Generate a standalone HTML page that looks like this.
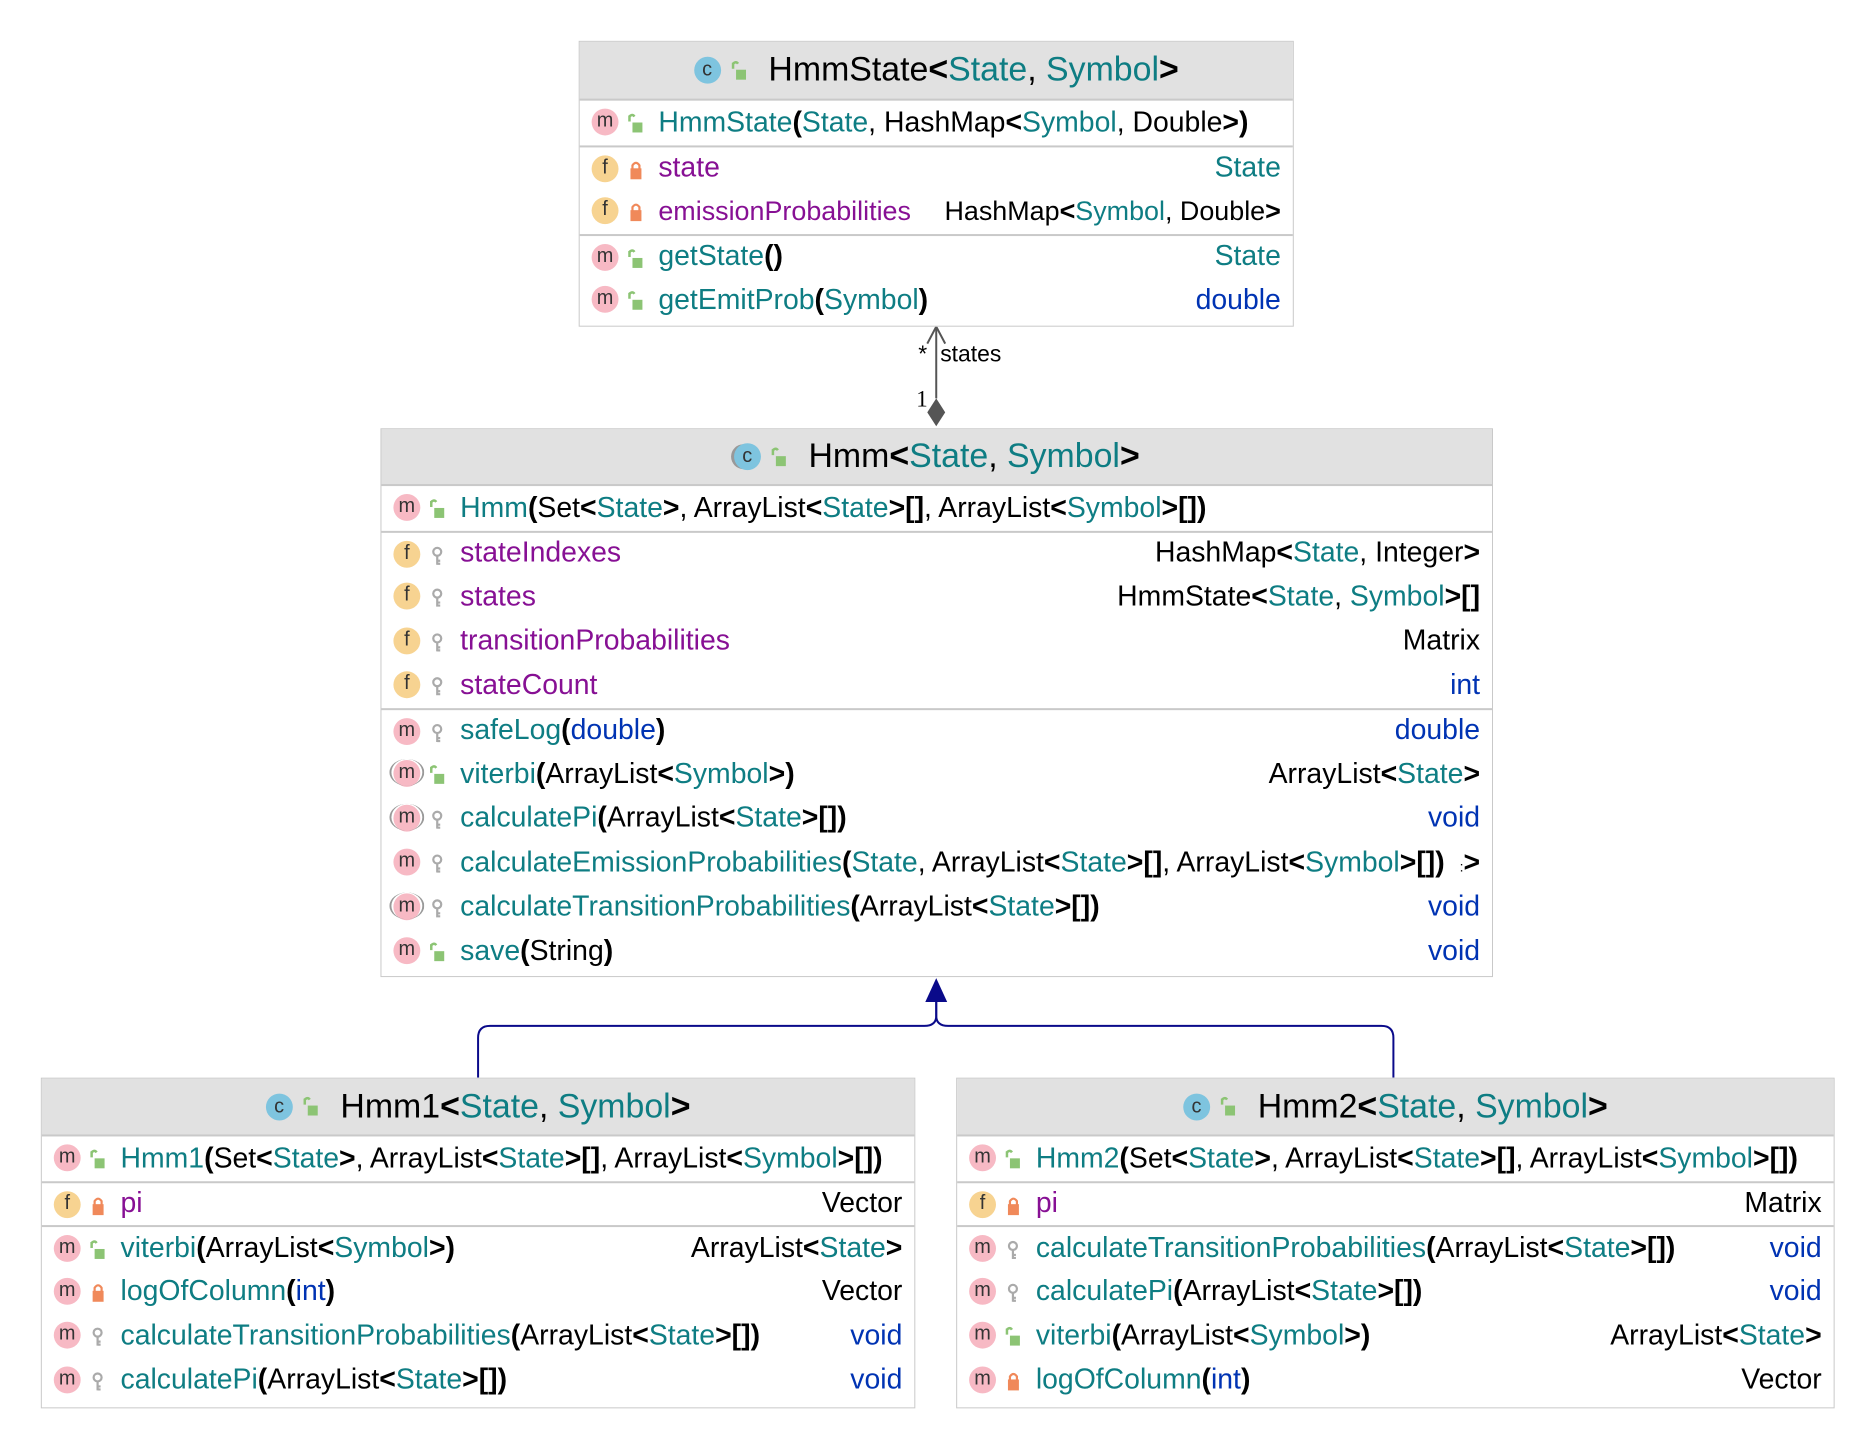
<!DOCTYPE html>
<html><head><meta charset="utf-8"><style>
*{box-sizing:border-box;margin:0;padding:0}
body{width:1872px;height:1446px;background:#fff;position:relative;font-family:"Liberation Sans",sans-serif;overflow:hidden}
#w{position:absolute;left:0;top:0;width:1872px;height:1446px;transform:scale(0.996);transform-origin:0 0}
.box{position:absolute;border:1.5px solid #c9c9c9;background:#fff}
.hdr{background:#e1e1e1;display:flex;align-items:center;justify-content:center;font-size:34px;color:#000;border-bottom:2px solid #c9c9c9}
.row{position:relative;height:44.5px;display:flex;align-items:center;font-size:28.5px;white-space:nowrap;color:#000}
.sep{border-top:2px solid #c9c9c9}
.ic{position:absolute;left:12px;top:8px;width:27px;height:27px;border-radius:50%;background:#f7b9c4;color:#333;font-size:20px;line-height:25px;text-align:center}
.ic.f{background:#f7d391}
.ic.a::before{content:"";position:absolute;left:-4px;top:-1px;width:31px;height:27px;border-left:2.5px solid #999;border-right:2.5px solid #999;border-radius:50%/50%}
.ci{display:inline-block;width:27px;height:27px;border-radius:50%;background:#7ec4df;color:#333;font-size:20px;line-height:26px;text-align:center;margin-right:10px}
.v{position:absolute;left:48px;top:13px;width:16px;height:20px}
.hv{position:relative;display:inline-block;width:16px;height:20px;margin-right:22px}
.t{position:absolute;left:79px}
.r{position:absolute;right:12px}
.te{color:#0e7d83}.pu{color:#871094}.bl{color:#0033b3}.b{font-weight:bold}
</style></head><body><div id="w">

<svg width="1872" height="1446" style="position:absolute;left:0;top:0">
<defs>
<symbol id="pub" viewBox="0 0 16 20"><path d="M2 2 v6" stroke="#8cc474" stroke-width="2.5" fill="none"/><path d="M2 3 q3 -3 5 0" stroke="#8cc474" stroke-width="2.5" fill="none"/><rect x="5" y="9" width="10" height="10" fill="#8cc474"/></symbol>
</defs>
<line x1="940" y1="330" x2="940" y2="400" stroke="#555" stroke-width="2"/>
<polyline points="931,345 940,328 949,345" fill="none" stroke="#555" stroke-width="2"/>
<polygon points="940,400 949,414 940,428 931,414" fill="#555"/>
<text x="922" y="363" font-size="23" font-family="Liberation Sans">*</text>
<text x="944" y="363" font-size="23" font-family="Liberation Sans">states</text>
<text x="920" y="408" font-size="23" font-family="Liberation Serif">1</text>
<polygon points="940,982 929,1006 951,1006" fill="#0a0a8a"/>
<path d="M940 1006 V1020 q0 10 -12 10 H492 q-12 0 -12 12 V1082" fill="none" stroke="#0a0a8a" stroke-width="2"/>
<path d="M940 1006 V1020 q0 10 12 10 H1387 q12 0 12 12 V1082" fill="none" stroke="#0a0a8a" stroke-width="2"/>
</svg>

<!-- HmmState -->
<div class="box" style="left:581px;top:41px;width:718px;height:287px">
<div class="hdr" style="height:59px"><span class="ci">c</span><svg class="hv" viewBox="0 0 16 20"><use href="#pub"/></svg>HmmState<b>&lt;</b><span class="te">State</span>,&nbsp;<span class="te">Symbol</span><b>&gt;</b></div>
<div class="row"><span class="ic">m</span><svg class="v"><use href="#pub"/></svg><span class="t"><span class="te">HmmState</span><b>(</b><span class="te">State</span>, HashMap<b>&lt;</b><span class="te">Symbol</span>, Double<b>&gt;</b><b>)</b></span></div>
<div class="row sep"><span class="ic f">f</span><svg class="v"><rect x="3" y="8" width="11" height="11" fill="#f0895a"/><path d="M5 9 V5 q3.5 -5 7 0 V9" stroke="#f0895a" stroke-width="2.2" fill="none"/></svg><span class="t pu">state</span><span class="r te">State</span></div>
<div class="row" style="font-size:27px"><span class="ic f">f</span><svg class="v"><rect x="3" y="8" width="11" height="11" fill="#f0895a"/><path d="M5 9 V5 q3.5 -5 7 0 V9" stroke="#f0895a" stroke-width="2.2" fill="none"/></svg><span class="t pu">emissionProbabilities</span><span class="r">HashMap<b>&lt;</b><span class="te">Symbol</span>, Double<b>&gt;</b></span></div>
<div class="row sep"><span class="ic">m</span><svg class="v"><use href="#pub"/></svg><span class="t"><span class="te">getState</span><b>()</b></span><span class="r te">State</span></div>
<div class="row"><span class="ic">m</span><svg class="v"><use href="#pub"/></svg><span class="t"><span class="te">getEmitProb</span><b>(</b><span class="te">Symbol</span><b>)</b></span><span class="r bl">double</span></div>
</div>

<!-- Hmm -->
<div class="box" style="left:382px;top:430px;width:1117px;height:551px">
<div class="hdr" style="height:57px"><span class="ci" style="box-shadow:-4px 0 0 -1px #999">c</span><svg class="hv" viewBox="0 0 16 20"><use href="#pub"/></svg>Hmm<b>&lt;</b><span class="te">State</span>,&nbsp;<span class="te">Symbol</span><b>&gt;</b></div>
<div class="row"><span class="ic">m</span><svg class="v"><use href="#pub"/></svg><span class="t"><span class="te">Hmm</span><b>(</b>Set<b>&lt;</b><span class="te">State</span><b>&gt;</b>, ArrayList<b>&lt;</b><span class="te">State</span><b>&gt;[]</b>, ArrayList<b>&lt;</b><span class="te">Symbol</span><b>&gt;[]</b><b>)</b></span></div>
<div class="row sep"><span class="ic f">f</span><svg class="v"><circle cx="8" cy="6" r="4" stroke="#aaa" stroke-width="2.2" fill="none"/><path d="M8 10 V19 M8 15 h3 M8 18 h3" stroke="#aaa" stroke-width="2.2"/></svg><span class="t pu">stateIndexes</span><span class="r">HashMap<b>&lt;</b><span class="te">State</span>, Integer<b>&gt;</b></span></div>
<div class="row"><span class="ic f">f</span><svg class="v"><circle cx="8" cy="6" r="4" stroke="#aaa" stroke-width="2.2" fill="none"/><path d="M8 10 V19 M8 15 h3 M8 18 h3" stroke="#aaa" stroke-width="2.2"/></svg><span class="t pu">states</span><span class="r">HmmState<b>&lt;</b><span class="te">State</span>, <span class="te">Symbol</span><b>&gt;[]</b></span></div>
<div class="row"><span class="ic f">f</span><svg class="v"><circle cx="8" cy="6" r="4" stroke="#aaa" stroke-width="2.2" fill="none"/><path d="M8 10 V19 M8 15 h3 M8 18 h3" stroke="#aaa" stroke-width="2.2"/></svg><span class="t pu">transitionProbabilities</span><span class="r">Matrix</span></div>
<div class="row"><span class="ic f">f</span><svg class="v"><circle cx="8" cy="6" r="4" stroke="#aaa" stroke-width="2.2" fill="none"/><path d="M8 10 V19 M8 15 h3 M8 18 h3" stroke="#aaa" stroke-width="2.2"/></svg><span class="t pu">stateCount</span><span class="r bl">int</span></div>
<div class="row sep"><span class="ic">m</span><svg class="v"><circle cx="8" cy="6" r="4" stroke="#aaa" stroke-width="2.2" fill="none"/><path d="M8 10 V19 M8 15 h3 M8 18 h3" stroke="#aaa" stroke-width="2.2"/></svg><span class="t"><span class="te">safeLog</span><b>(</b><span class="bl">double</span><b>)</b></span><span class="r bl">double</span></div>
<div class="row"><span class="ic a">m</span><svg class="v"><use href="#pub"/></svg><span class="t"><span class="te">viterbi</span><b>(</b>ArrayList<b>&lt;</b><span class="te">Symbol</span><b>&gt;</b><b>)</b></span><span class="r">ArrayList<b>&lt;</b><span class="te">State</span><b>&gt;</b></span></div>
<div class="row"><span class="ic a">m</span><svg class="v"><circle cx="8" cy="6" r="4" stroke="#aaa" stroke-width="2.2" fill="none"/><path d="M8 10 V19 M8 15 h3 M8 18 h3" stroke="#aaa" stroke-width="2.2"/></svg><span class="t"><span class="te">calculatePi</span><b>(</b>ArrayList<b>&lt;</b><span class="te">State</span><b>&gt;[]</b><b>)</b></span><span class="r bl">void</span></div>
<div class="row"><span class="ic">m</span><svg class="v"><circle cx="8" cy="6" r="4" stroke="#aaa" stroke-width="2.2" fill="none"/><path d="M8 10 V19 M8 15 h3 M8 18 h3" stroke="#aaa" stroke-width="2.2"/></svg><span class="t"><span class="te">calculateEmissionProbabilities</span><b>(</b><span class="te">State</span>, ArrayList<b>&lt;</b><span class="te">State</span><b>&gt;[]</b>, ArrayList<b>&lt;</b><span class="te">Symbol</span><b>&gt;[]</b><b>)</b></span><span class="r"><span style="font-size:14px">:</span><b>&gt;</b></span></div>
<div class="row"><span class="ic a">m</span><svg class="v"><circle cx="8" cy="6" r="4" stroke="#aaa" stroke-width="2.2" fill="none"/><path d="M8 10 V19 M8 15 h3 M8 18 h3" stroke="#aaa" stroke-width="2.2"/></svg><span class="t"><span class="te">calculateTransitionProbabilities</span><b>(</b>ArrayList<b>&lt;</b><span class="te">State</span><b>&gt;[]</b><b>)</b></span><span class="r bl">void</span></div>
<div class="row"><span class="ic">m</span><svg class="v"><use href="#pub"/></svg><span class="t"><span class="te">save</span><b>(</b>String<b>)</b></span><span class="r bl">void</span></div>
</div>

<!-- Hmm1 -->
<div class="box" style="left:41px;top:1082px;width:878px;height:332px">
<div class="hdr" style="height:58px"><span class="ci">c</span><svg class="hv" viewBox="0 0 16 20"><use href="#pub"/></svg>Hmm1<b>&lt;</b><span class="te">State</span>,&nbsp;<span class="te">Symbol</span><b>&gt;</b></div>
<div class="row"><span class="ic">m</span><svg class="v"><use href="#pub"/></svg><span class="t"><span class="te">Hmm1</span><b>(</b>Set<b>&lt;</b><span class="te">State</span><b>&gt;</b>, ArrayList<b>&lt;</b><span class="te">State</span><b>&gt;[]</b>, ArrayList<b>&lt;</b><span class="te">Symbol</span><b>&gt;[]</b><b>)</b></span></div>
<div class="row sep"><span class="ic f">f</span><svg class="v"><rect x="3" y="8" width="11" height="11" fill="#f0895a"/><path d="M5 9 V5 q3.5 -5 7 0 V9" stroke="#f0895a" stroke-width="2.2" fill="none"/></svg><span class="t pu">pi</span><span class="r">Vector</span></div>
<div class="row sep"><span class="ic">m</span><svg class="v"><use href="#pub"/></svg><span class="t"><span class="te">viterbi</span><b>(</b>ArrayList<b>&lt;</b><span class="te">Symbol</span><b>&gt;</b><b>)</b></span><span class="r">ArrayList<b>&lt;</b><span class="te">State</span><b>&gt;</b></span></div>
<div class="row"><span class="ic">m</span><svg class="v"><rect x="3" y="8" width="11" height="11" fill="#f0895a"/><path d="M5 9 V5 q3.5 -5 7 0 V9" stroke="#f0895a" stroke-width="2.2" fill="none"/></svg><span class="t"><span class="te">logOfColumn</span><b>(</b><span class="bl">int</span><b>)</b></span><span class="r">Vector</span></div>
<div class="row"><span class="ic">m</span><svg class="v"><circle cx="8" cy="6" r="4" stroke="#aaa" stroke-width="2.2" fill="none"/><path d="M8 10 V19 M8 15 h3 M8 18 h3" stroke="#aaa" stroke-width="2.2"/></svg><span class="t"><span class="te">calculateTransitionProbabilities</span><b>(</b>ArrayList<b>&lt;</b><span class="te">State</span><b>&gt;[]</b><b>)</b></span><span class="r bl">void</span></div>
<div class="row"><span class="ic">m</span><svg class="v"><circle cx="8" cy="6" r="4" stroke="#aaa" stroke-width="2.2" fill="none"/><path d="M8 10 V19 M8 15 h3 M8 18 h3" stroke="#aaa" stroke-width="2.2"/></svg><span class="t"><span class="te">calculatePi</span><b>(</b>ArrayList<b>&lt;</b><span class="te">State</span><b>&gt;[]</b><b>)</b></span><span class="r bl">void</span></div>
</div>

<!-- Hmm2 -->
<div class="box" style="left:960px;top:1082px;width:882px;height:332px">
<div class="hdr" style="height:58px"><span class="ci">c</span><svg class="hv" viewBox="0 0 16 20"><use href="#pub"/></svg>Hmm2<b>&lt;</b><span class="te">State</span>,&nbsp;<span class="te">Symbol</span><b>&gt;</b></div>
<div class="row"><span class="ic">m</span><svg class="v"><use href="#pub"/></svg><span class="t"><span class="te">Hmm2</span><b>(</b>Set<b>&lt;</b><span class="te">State</span><b>&gt;</b>, ArrayList<b>&lt;</b><span class="te">State</span><b>&gt;[]</b>, ArrayList<b>&lt;</b><span class="te">Symbol</span><b>&gt;[]</b><b>)</b></span></div>
<div class="row sep"><span class="ic f">f</span><svg class="v"><rect x="3" y="8" width="11" height="11" fill="#f0895a"/><path d="M5 9 V5 q3.5 -5 7 0 V9" stroke="#f0895a" stroke-width="2.2" fill="none"/></svg><span class="t pu">pi</span><span class="r">Matrix</span></div>
<div class="row sep"><span class="ic">m</span><svg class="v"><circle cx="8" cy="6" r="4" stroke="#aaa" stroke-width="2.2" fill="none"/><path d="M8 10 V19 M8 15 h3 M8 18 h3" stroke="#aaa" stroke-width="2.2"/></svg><span class="t"><span class="te">calculateTransitionProbabilities</span><b>(</b>ArrayList<b>&lt;</b><span class="te">State</span><b>&gt;[]</b><b>)</b></span><span class="r bl">void</span></div>
<div class="row"><span class="ic">m</span><svg class="v"><circle cx="8" cy="6" r="4" stroke="#aaa" stroke-width="2.2" fill="none"/><path d="M8 10 V19 M8 15 h3 M8 18 h3" stroke="#aaa" stroke-width="2.2"/></svg><span class="t"><span class="te">calculatePi</span><b>(</b>ArrayList<b>&lt;</b><span class="te">State</span><b>&gt;[]</b><b>)</b></span><span class="r bl">void</span></div>
<div class="row"><span class="ic">m</span><svg class="v"><use href="#pub"/></svg><span class="t"><span class="te">viterbi</span><b>(</b>ArrayList<b>&lt;</b><span class="te">Symbol</span><b>&gt;</b><b>)</b></span><span class="r">ArrayList<b>&lt;</b><span class="te">State</span><b>&gt;</b></span></div>
<div class="row"><span class="ic">m</span><svg class="v"><rect x="3" y="8" width="11" height="11" fill="#f0895a"/><path d="M5 9 V5 q3.5 -5 7 0 V9" stroke="#f0895a" stroke-width="2.2" fill="none"/></svg><span class="t"><span class="te">logOfColumn</span><b>(</b><span class="bl">int</span><b>)</b></span><span class="r">Vector</span></div>
</div>

</div></body></html>
